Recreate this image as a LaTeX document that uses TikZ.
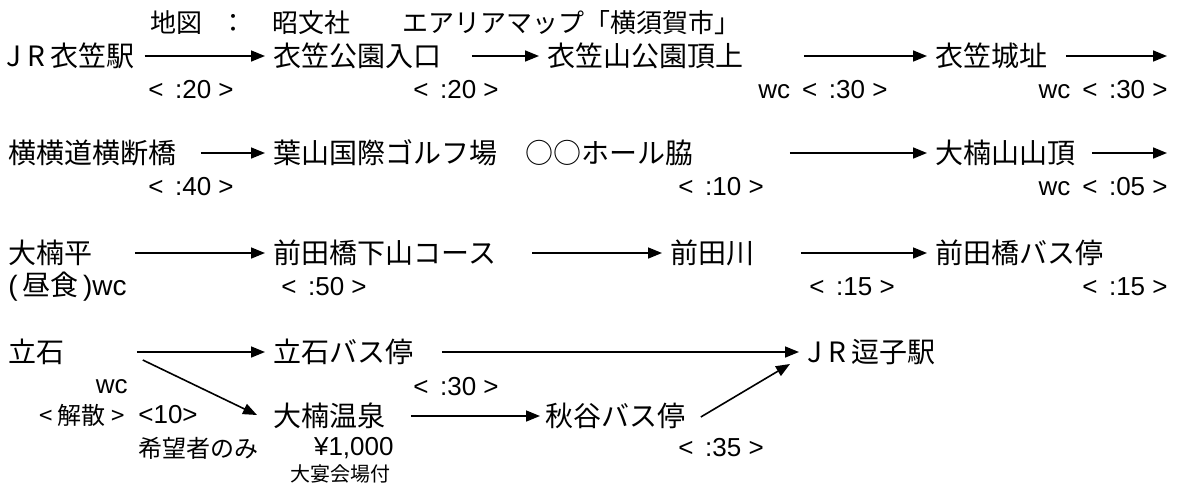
\documentclass[tikz,border=0pt]{standalone}
\usepackage{fontspec}
\setmainfont{Noto Sans CJK JP}
\newfontfamily\latin{Liberation Sans}
\usetikzlibrary{arrows.meta}
\newcommand{\tmin}[1]{<\ \,:#1\ >}

\begin{document}
\begin{tikzpicture}[x=0.5pt,y=-0.5pt,
  pl/.style={anchor=west, inner sep=0pt, font=\fontsize{14}{16}\selectfont},
  tm/.style={anchor=west, inner sep=0pt, font=\latin\fontsize{13}{15}\selectfont},
  tmr/.style={tm, anchor=east},
  note/.style={anchor=west, inner sep=0pt, font=\fontsize{12}{14}\selectfont},
  flow/.style={-{Triangle[length=7pt,width=5.5pt]}, line width=0.8pt, shorten >=4pt}]
  \useasboundingbox (0,0) rectangle (1178,494);

  \node (hd) [pl, font=\fontsize{13}{15}\selectfont] at (150,23) {地図\hspace{9pt}：　昭文社　　エアリアマップ「横須賀市」};

  \node (jr1) [pl] at (6,56) {J R\,衣笠駅};
  \node (kp) [pl] at (273,56) {衣笠公園入口};
  \node (ks) [pl] at (547,56) {衣笠山公園頂上};
  \node (kj) [pl] at (935,56) {衣笠城址};
  \coordinate (e1) at (1167,56);
  \node (t1) [tm] at (148,90) {\tmin{20}};
  \node (t2) [tm] at (413,90) {\tmin{20}};
  \node (t3) [tm] at (758,90) {wc\hspace{6pt}\tmin{30}};
  \node (t4) [tmr] at (1168,90) {wc\hspace{6pt}\tmin{30}};

  \node (yk) [pl] at (8,153) {横横道横断橋};
  \node (hg) [pl] at (273,153) {葉山国際ゴルフ場　○○ホール脇};
  \node (oy) [pl] at (935,153) {大楠山山頂};
  \coordinate (e2) at (1167,153);
  \node (t5) [tm] at (148,187) {\tmin{40}};
  \node (t6) [tm] at (678,187) {\tmin{10}};
  \node (t7) [tmr] at (1168,187) {wc\hspace{6pt}\tmin{05}};

  \node (ob) [pl] at (8,253) {大楠平};
  \node (ch) [pl] at (8,287) {{\latin(}\,昼食\,{\latin)}{\latin wc}};
  \node (mg) [pl] at (273,253) {前田橋下山コース};
  \node (mk) [pl] at (670,253) {前田川};
  \node (mb) [pl] at (935,253) {前田橋バス停};
  \node (t8) [tm] at (281,287) {\tmin{50}};
  \node (t9) [tm] at (809,287) {\tmin{15}};
  \node (t10) [tmr] at (1168,287) {\tmin{15}};

  \node (ts) [pl] at (8,352) {立石};
  \node (tb) [pl] at (273,352) {立石バス停};
  \node (zs) [pl] at (807,352) {J R\,逗子駅};
  \node (oo) [pl] at (273,416) {大楠温泉};
  \node (ab) [pl] at (545,416) {秋谷バス停};
  \node (wc) [tmr] at (128,387) {wc};
  \node (ks2) [note, anchor=east] at (125,415) {<\ 解散\ >};
  \node (p10) [tm] at (138,415) {<10>};
  \node (kb) [note] at (138,448) {希望者のみ};
  \node (yen) [tmr] at (394,448) {¥1,000};
  \node (dk) [note, font=\fontsize{10}{12}\selectfont] at (290,474) {大宴会場付};
  \node (t11) [tm] at (413,387) {\tmin{30}};
  \node (t12) [tm] at (678,448) {\tmin{35}};

  \draw [flow, shorten <=5pt] (jr1) -- (kp);
  \draw [flow, shorten <=15pt] (kp) -- (ks);
  \draw [flow, shorten <=30pt] (ks) -- (kj);
  \draw [flow, shorten <=9pt, shorten >=0pt] (kj) -- (e1);
  \draw [flow, shorten <=12pt] (yk) -- (hg);
  \draw [flow, shorten <=48pt] (hg) -- (oy);
  \draw [flow, shorten <=8pt, shorten >=0pt] (oy) -- (e2);
  \draw [flow, shorten <=21pt] (ob) -- (mg);
  \draw [flow, shorten <=18pt] (mg) -- (mk);
  \draw [flow, shorten <=23pt] (mk) -- (mb);
  \draw [flow, shorten <=36pt] (ts) -- (tb);
  \draw [flow, shorten <=14pt] (tb) -- (zs);
  \draw [flow, shorten >=0pt] ([shift={(78,8)}]ts.east) -- ([shift={(-16,-1)}]oo.west);
  \draw [flow, shorten <=12.5pt, shorten >=2.5pt] (oo) -- (ab);
  \draw [flow, shorten >=0pt] ([shift={(15,1)}]ab.east) -- ([shift={(-17,12)}]zs.west);
\end{tikzpicture}
\end{document}
